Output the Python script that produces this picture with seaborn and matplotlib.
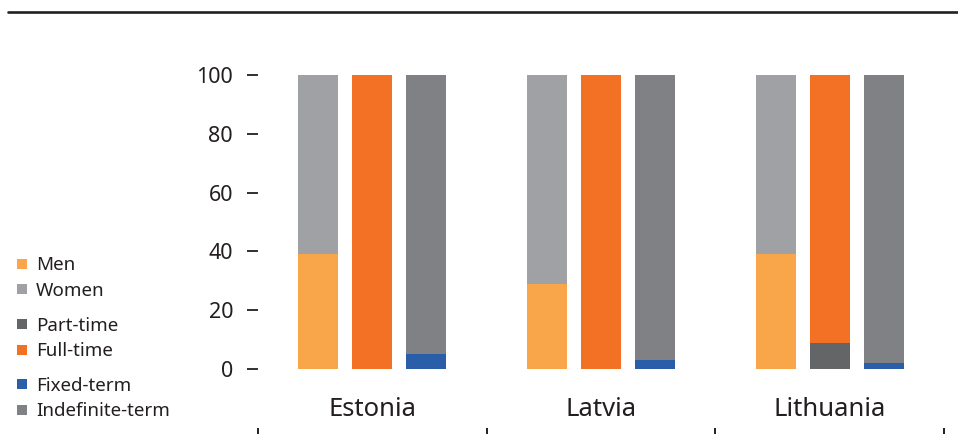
import matplotlib
matplotlib.use("Agg")
import matplotlib.pyplot as plt
from matplotlib.lines import Line2D
import pandas as pd
import seaborn as sns

# Shares (%) by country: lower segment of each stacked bar
countries = ["Estonia", "Latvia", "Lithuania"]
groups = ["Gender", "Working time", "Contract"]
men = [39, 29, 39]
part_time = [0, 0, 9]
fixed_term = [5, 3, 2]
y_ticks = [0, 20, 40, 60, 80, 100]

lower_labels = ["Men", "Part-time", "Fixed-term"]
upper_labels = ["Women", "Full-time", "Indefinite-term"]
lower_colors = ["#F9A54A", "#646567", "#2B5EA8"]
upper_colors = ["#A0A1A5", "#F37124", "#808184"]

rows = []
for i, c in enumerate(countries):
    for g, low in zip(groups, [men[i], part_time[i], fixed_term[i]]):
        rows.append({"country": c, "group": g, "lower": low, "total": 100})
df = pd.DataFrame(rows)

sns.set_theme(style="white")
plt.rcParams["font.family"] = ["Noto Sans", "DejaVu Sans"]
ink = "#231f20"

W, H = 958, 434
fig = plt.figure(figsize=(W / 100, H / 100), dpi=100)
ax = fig.add_axes([258 / W, 65 / H, 686 / W, 294 / H])

common = dict(data=df, x="country", hue="group", order=countries,
              hue_order=groups, width=0.71, gap=0.26, legend=False,
              saturation=1, errorbar=None, linewidth=0, ax=ax)
sns.barplot(y="total", palette=upper_colors, **common)
sns.barplot(y="lower", palette=lower_colors, **common)

ax.set_ylim(0, 100)
ax.set_xlim(-0.5, 2.5)
ax.set_xlabel("")
ax.set_ylabel("")
for s in ax.spines.values():
    s.set_visible(False)

ax.set_yticks(y_ticks)
ax.tick_params(axis="y", left=True, length=8, width=1.3, color=ink,
               pad=10, labelsize=15.5, labelcolor=ink)
ax.tick_params(axis="x", bottom=False, length=0, pad=20.5,
               labelsize=18.5, labelcolor=ink)

# Boundary ticks between country groups, below the labels
sec = ax.secondary_xaxis(-0.2007, functions=(lambda x: x, lambda x: x))
sec.set_xticks([-0.5, 0.5, 1.5, 2.5])
sec.set_xticklabels([])
sec.tick_params(axis="x", direction="out", length=8, width=1.4, color=ink)
for s in sec.spines.values():
    s.set_visible(False)


# Legends, one per pair
def square(color):
    return Line2D([], [], marker="s", linestyle="none", markersize=7.5,
                  markerfacecolor=color, markeredgewidth=0)


centers = [278, 338.5, 398.5]
for lo, up, lc, uc, yc in zip(lower_labels, upper_labels, lower_colors,
                              upper_colors, centers):
    leg = fig.legend([square(lc), square(uc)], [lo, up], loc="center left",
                     bbox_to_anchor=(16.5 / W, 1 - yc / H), frameon=False,
                     borderpad=0, borderaxespad=0, handlelength=0.6,
                     handletextpad=0.45, labelspacing=0.4, fontsize=13.5)
    for t in leg.get_texts():
        t.set_color(ink)

# Rule along the top
fig.add_artist(Line2D([8 / W, 1], [1 - 12 / H, 1 - 12 / H],
                      transform=fig.transFigure, color=ink, linewidth=1.9))

fig.savefig("out.png", dpi=100)
